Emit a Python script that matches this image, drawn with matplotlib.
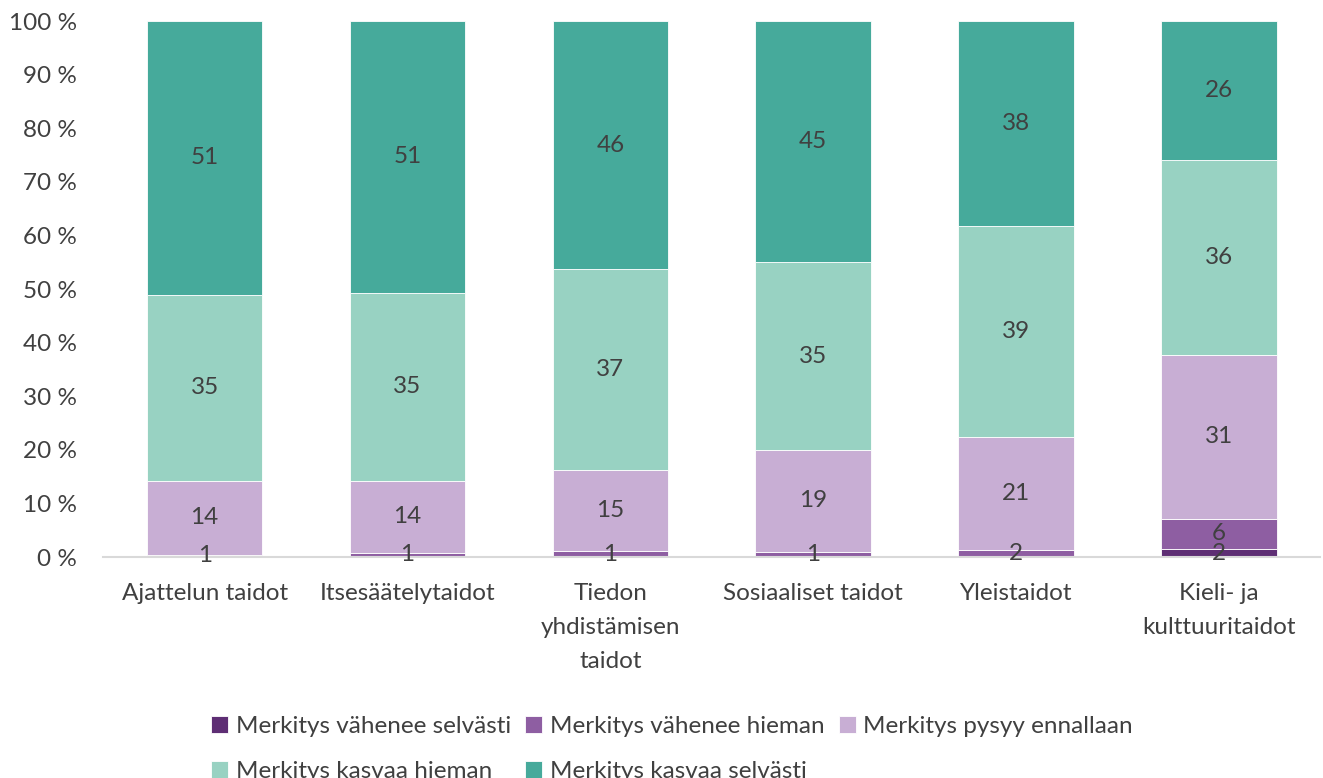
import matplotlib.pyplot as plt
import numpy as np

plt.rcParams['font.family'] = ['Lato', 'DejaVu Sans']

categories = ["Ajattelun taidot", "Itsesäätelytaidot", "Tiedon\nyhdistämisen\ntaidot",
              "Sosiaaliset taidot", "Yleistaidot", "Kieli- ja\nkulttuuritaidot"]
series = ["Merkitys vähenee selvästi", "Merkitys vähenee hieman", "Merkitys pysyy ennallaan",
          "Merkitys kasvaa hieman", "Merkitys kasvaa selvästi"]

# segment sizes (%)
vahenee_selvasti = [0.0, 0.0, 0.0, 0.0, 0.0, 1.5]
vahenee_hieman = [0.4, 0.8, 1.1, 1.0, 1.4, 5.6]
pysyy = [13.8, 13.4, 15.1, 19.0, 21.0, 30.6]
kasvaa_hieman = [34.7, 35.1, 37.5, 35.0, 39.4, 36.4]
kasvaa_selvasti = [51.1, 50.7, 46.3, 45.0, 38.2, 25.9]

# data labels as shown
labels_vs = [None, None, None, None, None, 2]
labels_vh = [1, 1, 1, 1, 2, 6]
labels_p = [14, 14, 15, 19, 21, 31]
labels_kh = [35, 35, 37, 35, 39, 36]
labels_ks = [51, 51, 46, 45, 38, 26]

colors = ["#5E2E74", "#8E5EA2", "#C8AED4", "#98D2C2", "#46AA9B"]

data = [vahenee_selvasti, vahenee_hieman, pysyy, kasvaa_hieman, kasvaa_selvasti]
labels = [labels_vs, labels_vh, labels_p, labels_kh, labels_ks]

fs = 17.5

fig = plt.figure(figsize=(13.23, 7.78), dpi=100)
ax = fig.add_axes([0.078, 0.284, 0.92, 0.689])

x = np.arange(len(categories))
bottom = np.zeros(len(categories))
handles = []
for vals, labs, col, name in zip(data, labels, colors, series):
    vals = np.array(vals)
    b = ax.bar(x, vals, 0.57, bottom=bottom, color=col, label=name,
               edgecolor="white", linewidth=0.6)
    handles.append(b)
    for xi, v, bt, lab in zip(x, vals, bottom, labs):
        if lab is None:
            continue
        ax.text(xi, bt + v / 2, str(lab), ha="center", va="center",
                fontsize=fs, color="#404040")
    bottom += vals

ax.set_xlim(-0.5, 5.5)
ax.set_ylim(0, 100)
ax.set_yticks(range(0, 101, 10))
ax.set_yticklabels([f"{t} %" for t in range(0, 101, 10)], fontsize=fs, color="#404040")
ax.set_xticks(x)
ax.set_xticklabels(categories, fontsize=fs, color="#404040", linespacing=1.75)
ax.tick_params(length=0)
ax.tick_params(axis="x", pad=19)
ax.tick_params(axis="y", pad=19)
for s in ["top", "right", "left"]:
    ax.spines[s].set_visible(False)
ax.spines["bottom"].set_color("#D9D9D9")
ax.spines["bottom"].set_linewidth(1.5)

order = [0, 3, 1, 4, 2]
fig.legend([handles[i] for i in order], [series[i] for i in order],
           loc="upper center", bbox_to_anchor=(0.508, 0.108), ncol=3,
           frameon=False, fontsize=fs, labelcolor="#404040",
           handlelength=0.7, handleheight=0.7, handletextpad=0.3,
           columnspacing=0.6, labelspacing=1.0)

fig.savefig("out.png", dpi=100)
